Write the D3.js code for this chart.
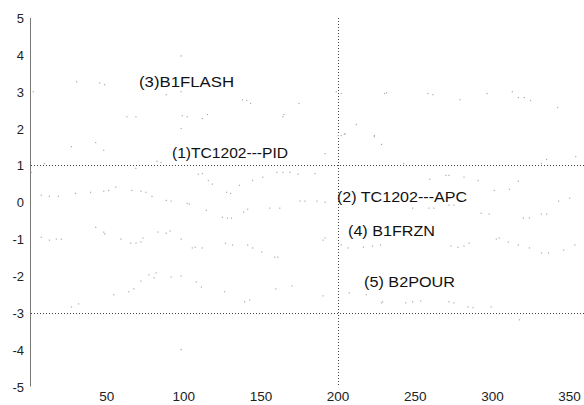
<!DOCTYPE html>
<html>
<head>
<meta charset="utf-8">
<script src="https://cdn.jsdelivr.net/npm/d3@7"></script>
<style>
  body { margin: 0; background: #fff; }
  svg { display: block; font-family: Arial, "Liberation Sans", sans-serif; }
</style>
</head>
<body>
<div id="chart"></div>
<script>
// chart data ([x, y] samples per trace)
const xTicks = [50, 100, 150, 200, 250, 300, 350];
const yTicks = [5, 4, 3, 2, 1, 0, -1, -2, -3, -4, -5];
const refLinesY = [1, -3];
const refLinesX = [200];

const b1flash = [
  [2.4, 3.0], [30.5, 3.27], [45.5, 3.24], [48.7, 3.19], [63.1, 2.32], [69.0, 2.32],
  [88.6, 2.92], [98.3, 3.0], [99.0, 2.35], [102.2, 2.32], [98.3, 2.0], [112.0, 2.27],
  [115.3, 2.38], [138.1, 2.78], [140.7, 2.76], [143.3, 2.68], [164.2, 2.32], [164.8, 2.38],
  [174.6, 2.68], [198.8, 3.0], [202.0, 2.95], [211.8, 2.11], [230.1, 2.95], [231.4, 2.97],
  [258.1, 2.95], [261.4, 2.92], [279.0, 2.78], [296.6, 2.95], [312.9, 3.0], [316.8, 2.84],
  [320.7, 2.84], [324.7, 2.76], [342.3, 2.57]
];
const tc1202Pid = [
  [1.1, 0.81], [9.6, 1.05], [27.2, 1.51], [42.9, 1.62], [48.1, 1.41], [68.9, 0.92],
  [82.6, 1.11], [85.3, 1.08], [109.4, 0.76], [112.0, 0.78], [115.9, 0.59], [118.5, 0.49],
  [127.7, 0.27], [130.3, 0.24], [136.1, 0.46], [144.6, 0.59], [151.2, 0.68], [160.3, 0.81],
  [164.2, 0.81], [168.8, 0.81], [174.0, 0.76], [185.1, 0.78], [191.6, 1.32], [200.1, 1.81],
  [202.0, 1.81], [204.0, 1.84], [204.6, 1.86], [223.5, 1.81], [223.5, 1.78], [228.1, 1.57],
  [242.5, 1.05], [259.4, 0.62], [269.9, 0.73], [271.8, 0.73], [281.6, 0.68], [290.7, 0.59],
  [301.2, 0.32], [311.0, 0.35], [316.8, 0.57], [331.8, 1.05], [335.1, 1.16], [354.0, 1.24]
];
const tc1202Apc = [
  [7.6, 0.19], [12.9, 0.16], [18.7, 0.16], [29.8, 0.24], [39.6, 0.27], [48.1, 0.30],
  [51.3, 0.32], [55.9, 0.41], [66.3, 0.32], [72.2, 0.30], [75.5, 0.27], [79.4, 0.16],
  [88.6, 0.05], [91.8, 0.03], [102.2, -0.03], [103.5, -0.05], [114.6, -0.22], [125.0, -0.41],
  [128.3, -0.43], [130.9, -0.43], [138.8, -0.27], [141.4, -0.19], [155.7, -0.16], [162.2, -0.16],
  [175.3, 0.03], [178.5, 0.03], [186.4, 0.03], [191.6, 0.0], [248.3, -0.16], [258.8, -0.16],
  [262.0, -0.16], [271.8, -0.08], [275.1, -0.08], [292.7, -0.30], [297.9, -0.32], [320.1, -0.43],
  [324.0, -0.43], [331.8, -0.32], [335.1, -0.32], [342.9, 0.03], [350.1, 0.11]
];
const b1frzn = [
  [7.6, -0.95], [12.9, -1.03], [17.4, -1.0], [20.7, -1.0], [42.9, -0.68], [48.1, -0.81],
  [48.7, -0.86], [59.2, -1.0], [65.7, -1.11], [69.0, -1.11], [72.2, -1.08], [73.5, -0.97],
  [83.3, -0.81], [88.6, -0.84], [91.1, -0.78], [98.3, -1.0], [105.5, -1.24], [107.4, -1.22],
  [112.0, -1.24], [127.0, -1.11], [131.6, -1.16], [141.4, -1.16], [144.6, -1.24], [150.5, -1.35],
  [158.9, -1.49], [160.9, -1.49], [190.3, -1.03], [191.6, -0.97], [202.0, -1.16], [206.6, -1.24],
  [216.4, -1.22], [222.3, -1.19], [227.5, -1.16], [273.1, -1.19], [277.7, -1.22], [281.6, -1.19],
  [284.9, -1.11], [302.5, -1.0], [304.4, -0.97], [310.3, -1.08], [316.8, -1.16], [324.0, -1.24],
  [331.8, -1.38], [336.4, -1.38], [346.2, -1.30], [353.4, -1.16]
];
const b2pour = [
  [27.2, -2.84], [31.8, -2.76], [54.6, -2.51], [64.4, -2.43], [67.6, -2.35], [72.2, -2.14],
  [77.4, -1.97], [80.7, -2.05], [82.0, -1.92], [91.8, -2.03], [98.3, -2.0], [108.1, -2.16],
  [111.4, -2.30], [126.4, -2.43], [139.4, -2.70], [142.7, -2.65], [159.6, -2.35], [170.1, -2.27],
  [190.3, -2.54], [207.2, -2.46], [218.3, -2.51], [228.1, -2.73], [228.8, -2.70], [243.8, -2.73],
  [248.3, -2.70], [253.5, -2.68], [271.8, -2.70], [275.1, -2.73], [284.2, -2.84], [287.5, -2.86],
  [299.2, -2.84], [317.5, -3.19]
];
const extremes = [[98.3, 3.97], [98.3, -4.0]];

const series = [
  { name: "(3)B1FLASH", points: b1flash, label: [139, 87, 95] },
  { name: "(1)TC1202---PID", points: tc1202Pid, label: [172, 158, 116] },
  { name: "(2) TC1202---APC", points: tc1202Apc, label: [337, 202, 130] },
  { name: "(4) B1FRZN", points: b1frzn, label: [348, 236, 87] },
  { name: "(5) B2POUR", points: b2pour, label: [364, 287, 91] }
];

const width = 584, height = 405;

const svg = d3.select("#chart").append("svg")
  .attr("width", width)
  .attr("height", height);

const x = d3.scaleLinear().domain([0, 360]).range([29.5, 585]);
const y = d3.scaleLinear().domain([-5, 5]).range([386.5, 18]);

// y axis line + labels (no tick marks)
svg.append("line")
  .attr("x1", 30.5).attr("x2", 30.5)
  .attr("y1", y(5)).attr("y2", y(-5))
  .attr("stroke", "#777");

svg.selectAll(".ylab")
  .data(yTicks)
  .enter().append("text")
  .attr("class", "ylab")
  .attr("x", 24)
  .attr("y", d => y(d) + 5)
  .attr("text-anchor", "end")
  .attr("font-size", 13)
  .attr("fill", "#222")
  .text(d => d);

// x labels sit right at the bottom edge, as in the picture
svg.selectAll(".xlab")
  .data(xTicks)
  .enter().append("text")
  .attr("class", "xlab")
  .attr("x", d => x(d))
  .attr("y", 401)
  .attr("text-anchor", "middle")
  .attr("font-size", 13.5)
  .attr("fill", "#222")
  .text(d => d);

// dotted reference lines
svg.selectAll(".hline")
  .data(refLinesY)
  .enter().append("line")
  .attr("x1", 31).attr("x2", width)
  .attr("y1", d => Math.round(y(d)) + 0.5)
  .attr("y2", d => Math.round(y(d)) + 0.5)
  .attr("stroke", "#444")
  .attr("stroke-dasharray", "1,2");

svg.selectAll(".vline")
  .data(refLinesX)
  .enter().append("line")
  .attr("x1", d => Math.round(x(d)) + 0.5)
  .attr("x2", d => Math.round(x(d)) + 0.5)
  .attr("y1", y(5)).attr("y2", y(-5))
  .attr("stroke", "#444")
  .attr("stroke-dasharray", "1,2");

// sparse sample dots
series.forEach(s => {
  svg.append("g").selectAll("rect")
    .data(s.points)
    .enter().append("rect")
    .attr("x", d => x(d[0]) - 0.6)
    .attr("y", d => y(d[1]) - 0.6)
    .attr("width", 1.2)
    .attr("height", 1.2)
    .attr("fill", "#aaa");
});

svg.append("g").selectAll("rect")
  .data(extremes)
  .enter().append("rect")
  .attr("x", d => x(d[0]) - 0.6)
  .attr("y", d => y(d[1]) - 0.6)
  .attr("width", 1.2)
  .attr("height", 1.2)
  .attr("fill", "#999");

// trace labels
svg.selectAll(".slab")
  .data(series)
  .enter().append("text")
  .attr("class", "slab")
  .attr("x", d => d.label[0])
  .attr("y", d => d.label[1])
  .attr("textLength", d => d.label[2])
  .attr("lengthAdjust", "spacingAndGlyphs")
  .attr("font-size", 14)
  .attr("fill", "#111")
  .text(d => d.name);
</script>
</body>
</html>
